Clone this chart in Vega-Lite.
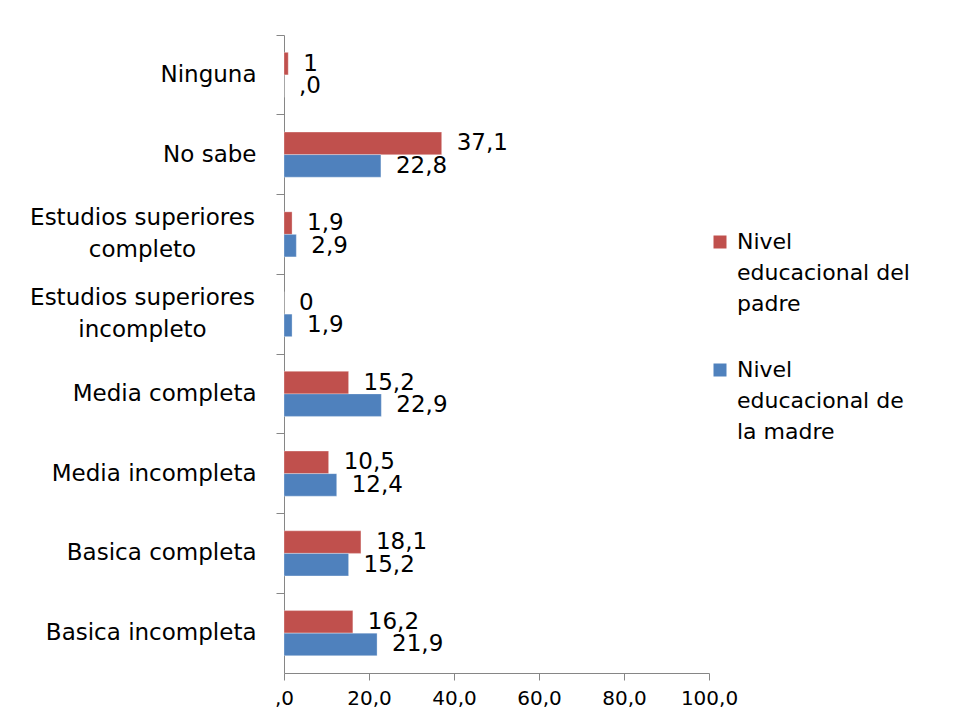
{
  "$schema": "https://vega.github.io/schema/vega-lite/v6.json",
  "width": 425,
  "height": 638,
  "padding": {"left": 29, "top": 34, "right": 5, "bottom": 5},
  "background": "white",
  "config": {
    "font": "DejaVu Sans",
    "view": {"stroke": null},
    "style": {"guide-label": {"lineHeight": 31}}
  },
  "data": {
    "values": [
      {"cat": "Ninguna", "serie": "Nivel educacional del padre", "valor": 1.0, "label": "1"},
      {"cat": "Ninguna", "serie": "Nivel educacional de la madre", "valor": 0, "label": ",0"},
      {"cat": "No sabe", "serie": "Nivel educacional del padre", "valor": 37.1, "label": "37,1"},
      {"cat": "No sabe", "serie": "Nivel educacional de la madre", "valor": 22.8, "label": "22,8"},
      {"cat": "Estudios superiores completo", "serie": "Nivel educacional del padre", "valor": 1.9, "label": "1,9"},
      {"cat": "Estudios superiores completo", "serie": "Nivel educacional de la madre", "valor": 2.9, "label": "2,9"},
      {"cat": "Estudios superiores incompleto", "serie": "Nivel educacional del padre", "valor": 0, "label": "0"},
      {"cat": "Estudios superiores incompleto", "serie": "Nivel educacional de la madre", "valor": 1.9, "label": "1,9"},
      {"cat": "Media completa", "serie": "Nivel educacional del padre", "valor": 15.2, "label": "15,2"},
      {"cat": "Media completa", "serie": "Nivel educacional de la madre", "valor": 22.9, "label": "22,9"},
      {"cat": "Media incompleta", "serie": "Nivel educacional del padre", "valor": 10.5, "label": "10,5"},
      {"cat": "Media incompleta", "serie": "Nivel educacional de la madre", "valor": 12.4, "label": "12,4"},
      {"cat": "Basica completa", "serie": "Nivel educacional del padre", "valor": 18.1, "label": "18,1"},
      {"cat": "Basica completa", "serie": "Nivel educacional de la madre", "valor": 15.2, "label": "15,2"},
      {"cat": "Basica incompleta", "serie": "Nivel educacional del padre", "valor": 16.2, "label": "16,2"},
      {"cat": "Basica incompleta", "serie": "Nivel educacional de la madre", "valor": 21.9, "label": "21,9"}
    ]
  },
  "encoding": {
    "y": {
      "field": "cat",
      "type": "nominal",
      "sort": null,
      "scale": {"paddingInner": 0, "paddingOuter": 0},
      "axis": {
        "title": null,
        "domainColor": "#868686",
        "tickColor": "#868686",
        "tickSize": 8,
        "bandPosition": 0,
        "labelFontSize": 23,
        "labelColor": "#000000",
        "labelLineHeight": 32,
        "labelLimit": 400,
        "labelExpr": "indexof(datum.value, 'Estudios superiores') == 0 ? ['Estudios superiores', replace(datum.value, 'Estudios superiores ', '')] : datum.value",
        "labelAlign": {"condition": {"test": "indexof(datum.value, 'Estudios superiores') == 0", "value": "center"}, "value": "right"},
        "labelPadding": {"condition": {"test": "indexof(datum.value, 'Estudios superiores') == 0", "value": 134}, "value": 20},
        "labelOffset": {"condition": {"test": "indexof(datum.value, 'Estudios superiores') == 0", "value": -16}, "value": 0}
      }
    },
    "yOffset": {
      "field": "serie",
      "type": "nominal",
      "sort": ["Nivel educacional del padre", "Nivel educacional de la madre"],
      "scale": {"paddingInner": 0, "paddingOuter": 0.77}
    },
    "x": {
      "field": "valor",
      "type": "quantitative",
      "scale": {"domain": [0, 100]},
      "axis": {
        "title": null,
        "values": [0, 20, 40, 60, 80, 100],
        "grid": false,
        "domainColor": "#868686",
        "tickColor": "#868686",
        "tickSize": 7,
        "labelFontSize": 20,
        "labelFlush": false,
        "labelColor": "#000000",
        "labelPadding": 8,
        "labelExpr": "datum.value == 0 ? ',0' : replace(format(datum.value, '.1f'), '.', ',')"
      }
    }
  },
  "layer": [
    {
      "mark": {"type": "bar", "stroke": "white", "strokeWidth": 0.5, "strokeOpacity": 0.6},
      "encoding": {
        "color": {
          "field": "serie",
          "type": "nominal",
          "sort": ["Nivel educacional del padre", "Nivel educacional de la madre"],
          "scale": {"domain": ["Nivel educacional del padre", "Nivel educacional de la madre"], "range": ["#C0504D", "#4F81BD"]},
          "legend": {
            "title": null,
            "orient": "none",
            "legendX": 425,
            "legendY": 196,
            "symbolType": "square",
            "symbolSize": 169,
            "symbolStrokeWidth": 0,
            "labelFontSize": 22,
            "labelColor": "#000000",
            "labelOffset": 6,
            "labelLimit": 300,
            "labelBaseline": "middle",
            "rowPadding": 44,
            "labelExpr": "datum.label == 'Nivel educacional del padre' ? ['Nivel', 'educacional del', 'padre'] : ['Nivel', 'educacional de', 'la madre']",
            "encode": {"labels": {"update": {"lineHeight": {"value": 31}}}}
          }
        }
      }
    },
    {
      "mark": {"type": "text", "align": "left", "baseline": "middle", "dx": 15, "fontSize": 23, "color": "#000000"},
      "encoding": {
        "text": {"field": "label"}
      }
    }
  ]
}
